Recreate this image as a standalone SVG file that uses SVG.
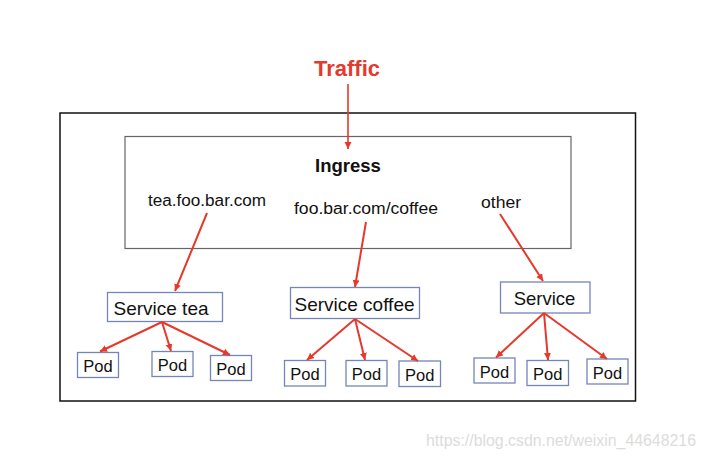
<svg xmlns="http://www.w3.org/2000/svg" width="706" height="458" viewBox="0 0 706 458">
<defs>
<marker id="ah" markerUnits="userSpaceOnUse" markerWidth="8" markerHeight="8" refX="7" refY="3.5" orient="auto">
<path d="M0,0 L7,3.5 L0,7 z" fill="#e5392b"/>
</marker>
<style>
.edge{stroke:#e5392b;stroke-width:2;fill:none;marker-end:url(#ah)}
.svc{fill:#fff;stroke:#7585b5;stroke-width:1.3}
.t{font-family:"Liberation Sans",Arial,sans-serif;fill:#111;text-anchor:middle}
.pod{font-size:16.5px}
.svct{font-size:19px}
.rule{font-size:16px}
</style>
</defs>
<rect width="706" height="458" fill="#fff"/>
<g id="cluster">
<rect x="60" y="113" width="575.5" height="288" fill="none" stroke="#111" stroke-width="1.5"/>
</g>
<g id="traffic">
<text class="t" x="347" y="76" style="font-size:22px;font-weight:bold;fill:#e5392b">Traffic</text>
</g>
<g id="ingress">
<rect x="125" y="136.5" width="446" height="112" fill="none" stroke="#666" stroke-width="1.2"/>
<text class="t" x="348" y="171.5" style="font-size:18.5px;font-weight:bold">Ingress</text>
<text class="t rule" x="207" y="206" textLength="118" lengthAdjust="spacingAndGlyphs">tea.foo.bar.com</text>
<text class="t rule" x="366" y="214" textLength="144" lengthAdjust="spacingAndGlyphs">foo.bar.com/coffee</text>
<text class="t rule" x="501" y="207.5" textLength="40" lengthAdjust="spacingAndGlyphs">other</text>
</g>
<g id="service-tea">
<rect class="svc" x="107.5" y="292.5" width="115" height="29"/>
<text class="t svct" x="161" y="315">Service tea</text>
</g>
<g id="service-coffee">
<rect class="svc" x="290.5" y="287.5" width="129" height="31"/>
<text class="t svct" x="354.5" y="311">Service coffee</text>
</g>
<g id="service">
<rect class="svc" x="500.5" y="282" width="89.5" height="31"/>
<text class="t svct" x="544.5" y="304.5" style="font-size:18.5px">Service</text>
</g>
<g id="pod-tea-1"><rect class="svc" x="77.5" y="352.5" width="41" height="25"/><text class="t pod" x="98" y="372">Pod</text></g>
<g id="pod-tea-2"><rect class="svc" x="152" y="351.5" width="41" height="25"/><text class="t pod" x="172.5" y="371">Pod</text></g>
<g id="pod-tea-3"><rect class="svc" x="210.5" y="355.5" width="41" height="25"/><text class="t pod" x="231" y="375">Pod</text></g>
<g id="pod-coffee-1"><rect class="svc" x="284.5" y="360.5" width="41" height="25.5"/><text class="t pod" x="305" y="380">Pod</text></g>
<g id="pod-coffee-2"><rect class="svc" x="346" y="360.5" width="41" height="25.5"/><text class="t pod" x="366.5" y="380">Pod</text></g>
<g id="pod-coffee-3"><rect class="svc" x="399" y="361" width="41.5" height="25.5"/><text class="t pod" x="419.75" y="380.5">Pod</text></g>
<g id="pod-other-1"><rect class="svc" x="474" y="358" width="41" height="25"/><text class="t pod" x="494.5" y="377.5">Pod</text></g>
<g id="pod-other-2"><rect class="svc" x="527" y="360.5" width="41.5" height="25"/><text class="t pod" x="547.75" y="380">Pod</text></g>
<g id="pod-other-3"><rect class="svc" x="587" y="359" width="41" height="25"/><text class="t pod" x="607.5" y="378.5">Pod</text></g>
<g id="connectors">
<line class="edge" x1="348" y1="84" x2="348" y2="149" style="stroke-width:1.6"/>
<line class="edge" x1="207" y1="213" x2="175" y2="291"/>
<line class="edge" x1="366" y1="222" x2="355" y2="287"/>
<line class="edge" x1="500" y1="214" x2="543" y2="281"/>
<line class="edge" x1="162" y1="322" x2="100" y2="351.5"/>
<line class="edge" x1="162" y1="322" x2="171" y2="351"/>
<line class="edge" x1="162" y1="322" x2="230" y2="355"/>
<line class="edge" x1="355" y1="319" x2="307" y2="360"/>
<line class="edge" x1="355" y1="319" x2="365" y2="360"/>
<line class="edge" x1="355" y1="319" x2="418" y2="361"/>
<line class="edge" x1="544" y1="313" x2="496" y2="357.5"/>
<line class="edge" x1="544" y1="313" x2="548" y2="360"/>
<line class="edge" x1="544" y1="313" x2="607" y2="359"/>
</g>
<text x="426" y="446" style="font-family:'Liberation Sans',Arial,sans-serif;font-size:16px;fill:#dcdcdc" textLength="270" lengthAdjust="spacingAndGlyphs">https://blog.csdn.net/weixin_44648216</text>
</svg>
